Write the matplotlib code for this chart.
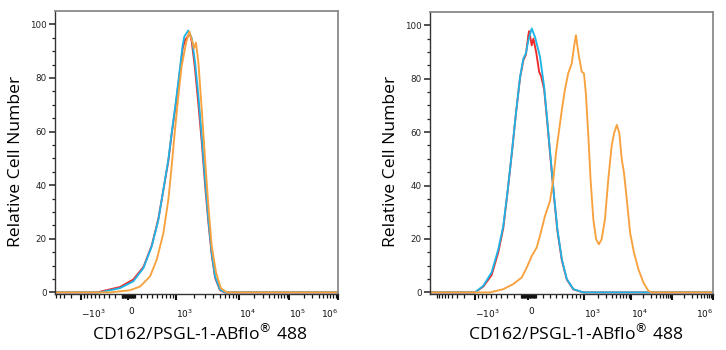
import numpy as np
import matplotlib.pyplot as plt

plt.rcParams['font.family'] = ['DejaVu Sans']

RED = '#ee2a2a'
BLUE = '#1fb4e6'
ORANGE = '#f7a23e'

# histogram channels (0-1024) and relative cell number
left_red_ch = [152, 235, 283, 320, 350, 374, 390, 410, 422, 438, 450, 462, 470, 480, 488, 494, 506, 518, 531, 543, 555, 567, 579, 597, 613]
left_red = [0, 2, 4.8, 9.5, 17.5, 27.5, 37, 49, 59, 71, 81, 91, 94, 95.5, 96.5, 94, 84, 71, 56, 40, 26, 14, 5.5, 0.8, 0]
left_blue_ch = [163, 235, 283, 320, 350, 374, 390, 410, 422, 438, 450, 462, 468, 482, 495, 507, 519, 531, 543, 555, 567, 579, 597, 615]
left_blue = [0, 1.6, 4.1, 9.1, 17.2, 27.1, 37.1, 49.5, 59.4, 71.8, 81.8, 92.4, 95.5, 97.7, 94.8, 85.5, 73.1, 58.2, 42, 27.1, 14.7, 6, 1, 0]
left_orange_ch = [199, 271, 308, 344, 368, 392, 410, 422, 434, 446, 458, 474, 486, 495, 503, 510, 519, 531, 543, 555, 567, 583, 600, 621]
left_orange = [0, 0.8, 2.2, 6, 12.2, 22.1, 34.6, 47, 60.7, 73.1, 84.3, 93, 97.3, 94.2, 91.1, 93.2, 85.5, 68.1, 49.5, 32.1, 17.2, 7.2, 1.6, 0]

right_red_ch = [163, 193, 223, 247, 265, 280, 296, 311, 326, 338, 347, 356, 359, 368, 374, 384, 395, 402, 413, 424, 437, 449, 461, 477, 495, 519, 555]
right_red = [0, 2.2, 6.5, 15, 24, 37, 52, 67, 80.5, 87, 89, 96.5, 97.8, 92.5, 95, 90, 82.5, 81, 76, 64, 49, 35.5, 23, 12, 4.8, 1.1, 0]
right_blue_ch = [163, 193, 223, 247, 265, 280, 296, 311, 326, 338, 347, 356, 368, 380, 398, 413, 424, 437, 449, 461, 477, 495, 519, 555]
right_blue = [0, 2.5, 7.5, 16.1, 24.8, 37.3, 52.2, 67.1, 80.7, 87.6, 89.5, 94.4, 98.8, 95.6, 88.2, 77, 64.6, 49.7, 36, 23.6, 12.4, 5, 1.2, 0]
right_orange_ch = [217, 265, 301, 332, 350, 368, 386, 401, 416, 434, 446, 456, 464, 477, 488, 500, 513, 521, 528, 537,
                   549, 557, 564, 573, 581, 591, 601, 611, 621, 633, 645, 657, 666, 676, 685, 694, 702, 712, 724, 738,
                   754, 772, 790, 802]
right_orange = [0, 1.2, 3.1, 5.6, 9.3, 13.6, 16.8, 22.4, 28.6, 34.1, 42.2, 52.2, 58.4, 68.3, 75.8, 82, 85.7, 91.9, 96.3, 89.5,
                82.6, 82, 74.5, 58.4, 42.2, 27.3, 19.9, 18, 19.9, 27.3, 42.2, 54.6, 59.6, 62.7, 59.6, 49.7, 44.7, 34.8, 22.4, 14.9,
                8.7, 3.7, 0.6, 0]

# where the decades sit on each axis (channel units)
anchor_vals = np.array([-1e4, -1e3, 0, 1e3, 1e4, 1e5, 1e6])
left_anchor_ch = [-36, 94, 264, 438, 666, 847, 1024]
right_anchor_ch = [20, 163, 355, 557, 727, 876, 1024]

major_vals = [-1e3, 0, 1e3, 1e4, 1e5, 1e6]
left_labels = [r'$-10^{3}$', '0', r'$10^{3}$', r'$10^{4}$', r'$10^{5}$', r'$10^{6}$']
right_labels = [r'$-10^{3}$', '0', r'$10^{3}$', r'$10^{4}$', '', r'$10^{6}$']

xlabel = 'CD162/PSGL-1-ABflo$^{®}$ 488'
ylabel = 'Relative Cell Number'


def to_ch(v, anchors):
    return np.interp(np.arcsinh(np.asarray(v) / 500.0), np.arcsinh(anchor_vals / 500.0), anchors)


minor_vals = []
for m in [10, 100, 1000, 1e4, 1e5]:
    for k in range(1, 10):
        v = k * m
        if v in major_vals:
            continue
        minor_vals.append(v)
        if m <= 1000:
            minor_vals.append(-v)


def draw(ax, curves, anchors, labels):
    for ch, vals, col in curves:
        x = [0] + list(ch) + [1024]
        y = [0] + list(vals) + [0]
        ax.plot(x, y, color=col, lw=1.35, solid_joinstyle='round')
    ax.set_xlim(0, 1024)
    ax.set_ylim(-0.6, 105)
    ax.set_yticks([0, 20, 40, 60, 80, 100])
    ax.set_yticks(np.arange(0, 105, 5), minor=True)
    ax.tick_params(axis='y', which='major', labelsize=6.3, length=4, width=1.1, colors='#222222', pad=2)
    ax.tick_params(axis='y', which='minor', length=2.5, width=0.9, colors='#222222')
    mch = to_ch(minor_vals, anchors)
    mch = mch[(mch >= 0) & (mch <= 1024)]
    ax.set_xticks(to_ch(major_vals, anchors))
    ax.set_xticks(mch, minor=True)
    ax.set_xticklabels(labels)
    ax.tick_params(axis='x', which='major', labelsize=6.5, length=4.5, width=1.5, colors='#111111', pad=5)
    ax.tick_params(axis='x', which='minor', length=2.8, width=0.9, colors='#111111')
    for i, t in enumerate(ax.get_xticklabels()):
        t.set_horizontalalignment('right' if i == len(labels) - 1 else 'left')
    for s in ['top', 'right']:
        ax.spines[s].set_color('#8a8a8a')
        ax.spines[s].set_linewidth(1.3)
    for s in ['left', 'bottom']:
        ax.spines[s].set_color('#333333')
        ax.spines[s].set_linewidth(1.0)


fig = plt.figure(figsize=(7.26, 3.5), dpi=100)
ax1 = fig.add_axes([0.0758, 0.16, 0.3898, 0.8086])
ax2 = fig.add_axes([0.5923, 0.16, 0.3898, 0.806])

draw(ax1, [(left_red_ch, left_red, RED), (left_blue_ch, left_blue, BLUE), (left_orange_ch, left_orange, ORANGE)],
     left_anchor_ch, left_labels)
draw(ax2, [(right_red_ch, right_red, RED), (right_blue_ch, right_blue, BLUE), (right_orange_ch, right_orange, ORANGE)],
     right_anchor_ch, right_labels)

for xc, yc_x in [(200 / 726, 16 / 726), (576 / 726, 391 / 726)]:
    fig.text(xc, 1 - 334 / 350, xlabel, ha='center', va='center', fontsize=12.6, family=['Open Sans', 'DejaVu Sans'])
    fig.text(yc_x, 1 - 161 / 350, ylabel, ha='center', va='center', rotation=90, fontsize=12.6,
             family=['Open Sans', 'DejaVu Sans'])

fig.savefig('out.png', dpi=100)
